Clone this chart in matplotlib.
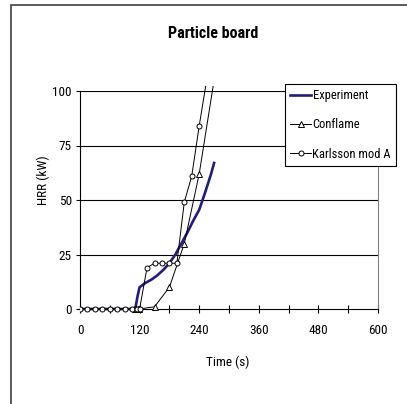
import matplotlib
matplotlib.use("Agg")
import matplotlib.pyplot as plt
from matplotlib.patches import Rectangle
from matplotlib.ticker import MultipleLocator
from matplotlib import font_manager

names = {f.name for f in font_manager.fontManager.ttflist}
fam = [n for n in ["Roboto Condensed", "Liberation Sans", "DejaVu Sans"] if n in names]
plt.rcParams['font.family'] = fam

# Data
exp_t = [0, 12, 24, 36, 48, 60, 72, 84, 96, 108, 112, 116, 120, 132, 144, 156, 168, 180,
         192, 204, 216, 228, 240, 252, 264, 270]
exp_hrr = [0, 0, 0, 0, 0, 0, 0, 0, 0, 0, 1, 6, 10, 12, 13.5, 15.5, 18, 21,
           25, 30, 35, 40.5, 45.5, 53.5, 62, 67]

conf_t = [110, 113, 116, 119, 150, 180, 210, 240, 270]
conf_hrr = [0, 0, 0, 0, 1, 10, 30, 62, 105]

karl_t = [0, 15, 30, 45, 60, 75, 90, 105, 115, 120, 135, 150, 165, 180, 195, 210, 225, 240, 255]
karl_hrr = [0, 0, 0, 0, 0, 0, 0, 0, 0, 0, 19, 21, 21, 21, 21, 49, 61, 84, 105]

title = "Particle board"
xlabel = "Time (s)"
ylabel = "HRR (kW)"
x_ticks = [0, 120, 240, 360, 480, 600]
y_ticks = [0, 25, 50, 75, 100]

W, H = 407, 404
fig = plt.figure(figsize=(W / 100, H / 100), dpi=100)
ax = fig.add_axes([80 / W, 1 - 309 / H, (378 - 80) / W, (309 - 91) / H])

clip = Rectangle((0, -0.05), 1, 1.073, transform=ax.transAxes, visible=False)
ax.add_patch(clip)

l1, = ax.plot(exp_t, exp_hrr, color='#1f1f7a', lw=1.9, label='Experiment', zorder=3)
l2, = ax.plot(conf_t, conf_hrr, color='black', lw=0.7, marker='^', ms=4.2,
              mfc='white', mec='black', mew=0.7, label='Conflame', zorder=4)
l3, = ax.plot(karl_t, karl_hrr, color='black', lw=0.7, marker='o', ms=3.6,
              mfc='white', mec='black', mew=0.7, label='Karlsson mod A', zorder=4)
for ln in (l1, l2, l3):
    ln.set_clip_path(clip)

ax.set_xlim(0, 600)
ax.set_ylim(0, 100)
ax.set_xticks(x_ticks)
ax.xaxis.set_minor_locator(MultipleLocator(60))
ax.set_yticks(y_ticks)
ax.tick_params(axis='x', which='both', direction='inout', length=6, width=0.8,
               labelsize=9.5, pad=8, color='black')
ax.tick_params(axis='y', direction='out', length=3, width=0.8, labelsize=9.5, pad=3)

for y in y_ticks[1:]:
    ax.axhline(y, color='black', lw=0.8, zorder=1)

ax.spines['top'].set_visible(False)
ax.spines['right'].set_color('#808080')
ax.spines['right'].set_linewidth(0.8)
ax.spines['left'].set_linewidth(0.8)
ax.spines['bottom'].set_linewidth(0.8)

fig.text(213 / W, 1 - 33 / H, title, ha='center', va='center', fontsize=11.5, fontweight='bold')
fig.text(228 / W, 1 - 362 / H, xlabel, ha='center', va='center', fontsize=9.5)
fig.text(43 / W, 1 - 180 / H, ylabel, ha='center', va='center', fontsize=9.5, rotation=90)

leg = fig.legend(handles=[l1, l2, l3], loc='upper left', bbox_to_anchor=(285 / W, 1 - 84 / H),
                 bbox_transform=fig.transFigure, fontsize=9, frameon=True, fancybox=False,
                 edgecolor='black', framealpha=1, handlelength=1.7, handletextpad=0.1,
                 labelspacing=1.3, borderpad=0.4, borderaxespad=0)
leg.get_frame().set_linewidth(0.8)

border = Rectangle((11 / W, -0.1), 1.2, 1.1 - 5 / H, transform=fig.transFigure,
                   fill=False, edgecolor='#404040', lw=1.2, clip_on=False)
fig.patches.append(border)

fig.savefig('out.png', dpi=100)
